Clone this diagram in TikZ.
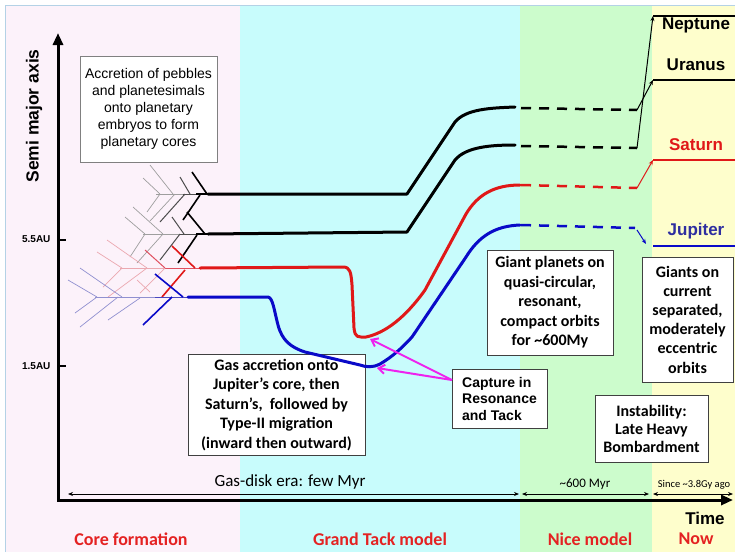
\documentclass[tikz,border=0pt]{standalone}
\usepackage{fontspec}
\setmainfont{Liberation Sans}
\newfontfamily\calfont{Carlito}
\usetikzlibrary{arrows.meta}

\definecolor{bgpink}{HTML}{FCF2FA}
\definecolor{bgcyan}{HTML}{C8FCFC}
\definecolor{bggreen}{HTML}{CCFCCC}
\definecolor{bgyellow}{HTML}{FEFECC}
\definecolor{framecol}{HTML}{B4D2E6}
\definecolor{satred}{HTML}{E01818}
\definecolor{jupblue}{HTML}{0A0AC8}
\definecolor{labred}{HTML}{E42222}
\definecolor{juplab}{HTML}{2E2EA0}
\definecolor{capmag}{HTML}{EE22EE}

% one branch of an embryo tree: from a point on the trunk, by a given offset
\newcommand\arm[5]{\draw[#1] (#2,#3) -- ++(#4,#5);}

\begin{document}
\begin{tikzpicture}[x=1pt,y=-1pt,
  tgl/.style={draw=black!38,line width=0.7pt},
  tgm/.style={draw=black!70,line width=1pt},
  tbk/.style={draw=black,line width=1.6pt},
  trl/.style={draw={rgb,255:red,235;green,168;blue,176},line width=0.7pt},
  trm/.style={draw={rgb,255:red,224;green,80;blue,96},line width=1pt},
  trk/.style={draw=satred,line width=1.6pt},
  tbl/.style={draw={rgb,255:red,144;green,144;blue,208},line width=0.7pt},
  tbm/.style={draw={rgb,255:red,72;green,72;blue,192},line width=1pt},
  tbb/.style={draw=jupblue,line width=1.6pt},
  track/.style={line width=3pt,line join=round,line cap=round},
  later/.style={line width=2.5pt,dash pattern=on 10pt off 8pt},
  jump/.style={line width=1pt,-{Stealth[length=5pt,width=4pt]}},
  final/.style={line width=2.5pt},
  box/.style={draw=black!75,line width=1pt,fill=white,inner sep=0pt},
  arialbox/.style={font=\fontsize{14}{17}\selectfont,align=center},
  calbox/.style={font=\calfont\bfseries\fontsize{16}{19.5}\selectfont,align=center},
  planetlab/.style={font=\bfseries\fontsize{17}{20}\selectfont},
  era/.style={font=\calfont\bfseries\fontsize{18}{20}\selectfont,text=labred},
  span/.style={line width=0.8pt,{Stealth[length=5pt,width=4pt]}-{Stealth[length=5pt,width=4pt]}},
  capture/.style={draw=capmag,line width=2pt,-{Straight Barb[length=6pt,width=9pt]}}
]
\useasboundingbox (0,0) rectangle (735,552);

% era bands
\fill[white] (0,0) rectangle (735,552);
\fill[bgpink] (6,6) rectangle (240,552);
\fill[bgcyan] (240,6) rectangle (520,552);
\fill[bggreen] (520,6) rectangle (652,552);
\fill[bgyellow] (652,6) rectangle (735,552);
\draw[framecol,line width=1.2pt] (5.5,552) -- (5.5,5.5) -- (735,5.5);

% axes
\draw[line width=3pt,{Triangle[length=12pt,width=10pt]}-{Triangle[length=12pt,width=10pt]}]
  (58,33) -- (58,500) -- (733,500);
\draw[line width=1.5pt] (58,240) -- (66,240) (58,366) -- (66,366);
\node[anchor=east,font=\bfseries\fontsize{10}{12}\selectfont] (au55) at (54,239) {5.5AU};
\node[anchor=east,font=\bfseries\fontsize{10}{12}\selectfont] (au15) at (54,366) {1.5AU};
\node[rotate=90,font=\bfseries\fontsize{17.5}{20}\selectfont] (yax) at (34,116) {Semi major axis};
\node[font=\bfseries\fontsize{17}{20}\selectfont] (tax) at (705,518) {Time};

% notes lying under the tracks
\node[box,draw=black!50,arialbox,minimum width=137,minimum height=106] (acc) at (148.5,109)
  {Accretion of pebbles\\and planetesimals\\onto planetary\\embryos to form\\planetary cores};
\node[box,calbox,minimum width=177,minimum height=101] (gas) at (276.5,405)
  {Gas accretion onto\\Jupiter’s core, then\\Saturn’s,\ \ followed by\\Type-II migration\\(inward then outward)};

% embryo trees: outer ice-giant core
\draw[tgl] (156,194) -- (190,194);
\draw[tgm] (183,194) -- (200,194);
\draw[tbk] (196,194) -- (210,194);
\arm{tgl}{160}{194}{-17}{-16} \arm{tgl}{160}{194}{-13}{18}
\arm{tgl}{173}{194}{-23}{-29} \arm{tgl}{175}{194}{-25}{27}
\arm{tgm}{190}{194}{-10}{-17} \arm{tgm}{185}{194}{-25}{28}
\arm{tbk}{207}{194}{-15}{-22} \arm{tbk}{200}{195}{-17}{25}
% second ice-giant core
\draw[tgl] (143,234) -- (185,234);
\draw[tgm] (180,234) -- (200,234);
\draw[tbk] (196,234) -- (210,234);
\arm{tgl}{145}{234}{-20}{-17} \arm{tgl}{145}{234}{-15}{23}
\arm{tgl}{163}{234}{-30}{-27} \arm{tgl}{163}{234}{-26}{29}
\arm{tgm}{184}{234}{-12}{-17} \arm{tgm}{180}{234}{-20}{26}
\arm{tbk}{205}{234}{-18}{-22} \arm{tbk}{197}{235}{-19}{28}
% Saturn core
\draw[trl] (120,268) -- (170,268);
\draw[trm] (165,268) -- (200,268);
\arm{trl}{122}{268}{-25}{-16} \arm{trl}{122}{268}{-19}{19}
\arm{trl}{147}{268}{-40}{-28} \arm{trl}{147}{268}{-39}{29}
\arm{trm}{165}{268}{-20}{-18} \arm{trl}{165}{268}{-25}{25}
\arm{trk}{195}{268}{-23}{-22} \arm{trk}{185}{270}{-23}{27}
% Jupiter core
\draw[tbl] (95,297) -- (160,297);
\draw[tbm] (155,297) -- (190,297);
\arm{tbl}{97}{297}{-29}{-17} \arm{tbl}{97}{297}{-22}{16}
\arm{tbl}{122}{297}{-42}{-29} \arm{tbl}{118}{297}{-38}{30}
\arm{trl}{150}{292}{-13}{-12} \arm{tbl}{140}{298}{-32}{22}
\arm{tbb}{183}{297}{-28}{-23} \arm{tbb}{172}{297}{-29}{28}

% migration tracks
\draw[track,black] (208,194) -- (407,194) -- (455,122) .. controls (466,109) and (490,108) .. (515,107);
\draw[track,black] (208,234) -- (407,232) -- (455,160) .. controls (466,147) and (490,145) .. (515,145);
\draw[track,satred] (200,268) -- (343,267) .. controls (350,267) and (351,272) .. (352,285)
  -- (354,328) .. controls (355,338) and (358,337) .. (366,337)
  .. controls (385,333) and (405,318) .. (425,290) -- (466,214)
  .. controls (478,194) and (495,185) .. (520,185);
\draw[track,jupblue] (188,297) -- (268,297) .. controls (273,298) and (274,310) .. (278,325)
  .. controls (282,340) and (290,347) .. (305,352) -- (360,365)
  .. controls (366,367) and (372,368) .. (380,364)
  .. controls (392,357) and (402,348) .. (412,337) -- (466,257)
  .. controls (479,236) and (495,226) .. (520,225);

% quiet period
\draw[later,black] (521,108) -- (637,110);
\draw[later,black] (521,146) -- (637,148);
\draw[later,satred] (521,185) -- (637,188);
\draw[later,jupblue] (521,225) -- (635,228);

% instability jumps
\coordinate (nepend) at (653,16);
\coordinate (uraend) at (653,80);
\coordinate (satend) at (653,160);
\coordinate (jupend) at (646,244);
\draw[jump,black] (637,110) -- (uraend);
\draw[jump,black] (637,148) -- (nepend);
\draw[jump,satred] (637,188) -- (satend);
\draw[jump,jupblue] (637,230) -- (jupend);

% present orbits
\draw[line width=1.5pt,black] (653,16) -- (735,16);
\draw[final,black] (653,80) -- (735,80);
\draw[final,satred] (653,160) -- (735,160);
\draw[final,jupblue] (653,246) -- (735,246);
\node[planetlab] (nep) at (696,25) {Neptune};
\node[planetlab] (ura) at (696,65) {Uranus};
\node[planetlab,text=satred] (sat) at (696,145) {Saturn};
\node[planetlab,text=juplab] (jup) at (696,231) {Jupiter};

% remaining notes
\node[box,font=\bfseries\fontsize{14}{16.5}\selectfont,align=left,minimum width=95,minimum height=59] (cap) at (499.5,398.5)
  {Capture in\\Resonance\\and Tack};
\node[box,calbox,minimum width=126,minimum height=105] (comp) at (550,302.5)
  {Giant planets on\\quasi-circular,\\resonant,\\compact orbits\\for \textasciitilde600My};
\node[box,calbox,font=\calfont\bfseries\fontsize{16}{19.2}\selectfont,minimum width=91,minimum height=125] (now) at (687.5,319.5)
  {Giants on\\current\\separated,\\moderately\\eccentric\\orbits};
\node[box,calbox,font=\calfont\bfseries\fontsize{16}{18}\selectfont,minimum width=113,minimum height=67] (lhb) at (651.5,428.5)
  {Instability:\\Late Heavy\\Bombardment};

% capture pointers
\coordinate (capin) at (452,380);
\coordinate (satmin) at (370,339);
\coordinate (jupmin) at (377,368);
\draw[capture] (capin) -- (satmin);
\draw[capture] (capin) -- (jupmin);

% time spans
\draw[span] (68,494) -- (519,494);
\draw[span] (522,494) -- (649,494);
\draw[span] (653,494) -- (733,494);
\node[font=\calfont\fontsize{17}{20}\selectfont] (gasera) at (290,482) {Gas-disk era: few Myr};
\node[font=\calfont\fontsize{13}{15}\selectfont] (niceera) at (585,484) {\textasciitilde600 Myr};
\node[font=\calfont\fontsize{10.5}{12}\selectfont] (nowera) at (694,485) {Since \textasciitilde3.8Gy ago};

% era names
\node[era] (e1) at (131,539) {Core formation};
\node[era] (e2) at (380,539) {Grand Tack model};
\node[era] (e3) at (590,539) {Nice model};
\node[era] (e4) at (696,539) {Now};
\end{tikzpicture}
\end{document}
